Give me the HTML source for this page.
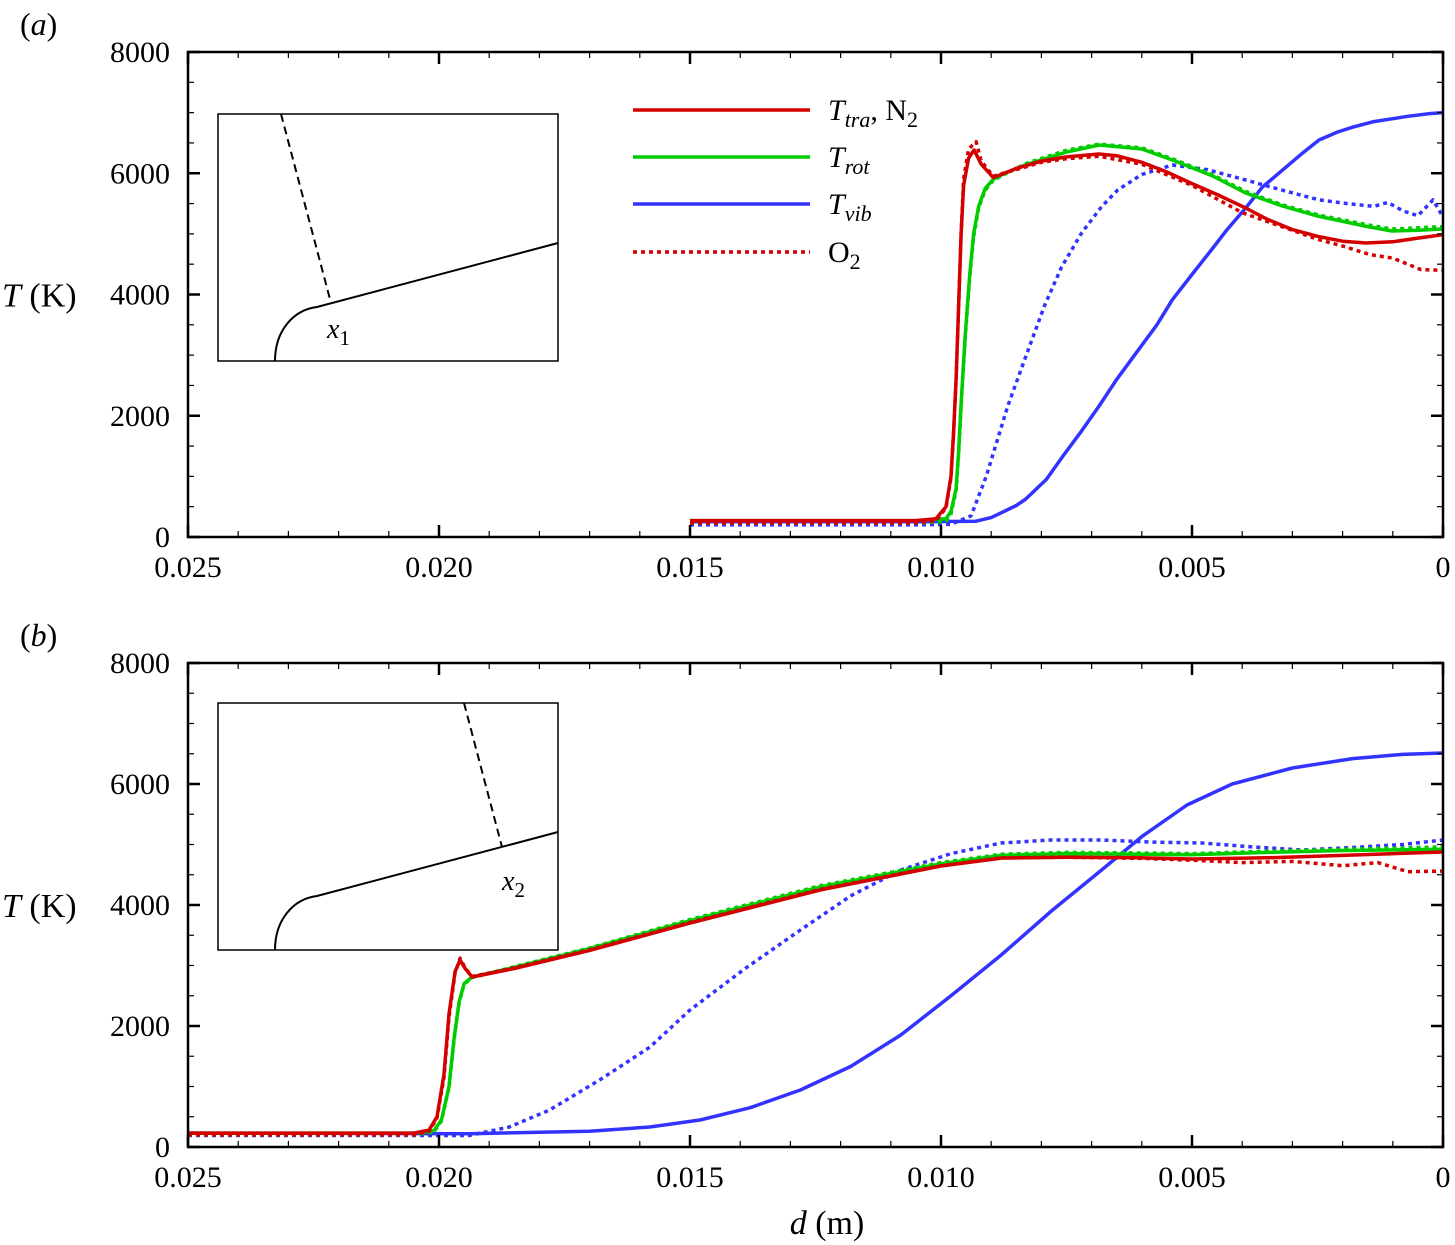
<!DOCTYPE html>
<html><head><meta charset="utf-8"><style>
body{margin:0;background:#fff}
svg{display:block;font-family:"Liberation Serif",serif}
</style></head><body>
<svg id="fig" width="1455" height="1245" viewBox="0 0 1455 1245" xmlns="http://www.w3.org/2000/svg"></svg>
<script>
// ---- data ----
const xTicks = [0.025, 0.020, 0.015, 0.010, 0.005, 0];
const xTickLabels = ["0.025", "0.020", "0.015", "0.010", "0.005", "0"];
const yTicks = [0, 2000, 4000, 6000, 8000];
const yTickLabels = ["0", "2000", "4000", "6000", "8000"];

// panel (a)
const aN2traD = [0.015,0.0105,0.0101,0.0099,0.0098,0.00975,0.0097,0.00965,0.0096,0.00955,0.00945,0.00934,0.0092,0.00896,0.0088,0.0085,0.008,0.0075,0.00685,0.0065,0.006,0.0055,0.005,0.0045,0.00393,0.0035,0.003,0.0025,0.002,0.00153,0.001,0.0005,0];
const aN2traT = [270,270,300,500,1000,1700,2600,3800,5000,5800,6250,6384,6150,5930,5980,6080,6200,6270,6317,6290,6180,6020,5830,5650,5427,5240,5070,4960,4880,4850,4870,4930,4986];
const aO2traD = [0.015,0.0105,0.0101,0.0099,0.0098,0.00975,0.0097,0.00965,0.0096,0.00955,0.00945,0.0093,0.0092,0.00896,0.0088,0.0085,0.008,0.0075,0.00685,0.006,0.005,0.004,0.00247,0.002,0.00145,0.001,0.00044,0];
const aO2traT = [230,230,270,480,980,1700,2600,3800,5000,5900,6400,6520,6200,5950,5990,6060,6180,6240,6280,6150,5800,5350,4904,4800,4657,4600,4410,4400];
const aN2rotD = [0.015,0.0105,0.0099,0.0098,0.0097,0.00965,0.0096,0.00952,0.00943,0.00935,0.00925,0.00912,0.00896,0.0087,0.00831,0.0075,0.00685,0.006,0.00539,0.0046,0.00393,0.0032,0.00247,0.0015,0.00102,0.0005,0];
const aN2rotT = [270,270,300,420,800,1400,2200,3300,4300,5000,5450,5750,5900,6010,6140,6350,6466,6400,6219,5960,5674,5460,5288,5120,5047,5060,5080];
const aO2rotD = [0.015,0.0105,0.0099,0.0098,0.0097,0.00965,0.0096,0.00952,0.00943,0.00935,0.00925,0.00912,0.00896,0.0087,0.00831,0.0075,0.00685,0.006,0.00539,0.0046,0.00393,0.0032,0.00247,0.0015,0.00102,0.0005,0];
const aO2rotT = [230,230,260,380,760,1350,2150,3250,4250,4950,5420,5720,5880,6000,6160,6380,6480,6420,6240,5980,5700,5480,5310,5150,5080,5100,5120];
const aN2vibD = [0.015,0.0105,0.0093,0.009,0.0088,0.0085,0.00831,0.0079,0.00757,0.0072,0.00685,0.0065,0.0061,0.0057,0.00539,0.005,0.0046,0.0043,0.00393,0.0036,0.0032,0.0028,0.00247,0.0021,0.0018,0.00138,0.001,0.0007,0.0003,0];
const aN2vibT = [250,250,260,320,400,520,627,950,1336,1750,2160,2600,3050,3500,3914,4330,4750,5070,5427,5770,6050,6330,6549,6680,6760,6852,6900,6940,6980,7000];
const aO2vibD = [0.015,0.0105,0.0098,0.0094,0.0091,0.00867,0.0083,0.00794,0.0076,0.0072,0.0068,0.00648,0.006,0.00539,0.0047,0.00393,0.0032,0.00247,0.0019,0.00138,0.0011,0.0008,0.0005,0.0002,0];
const aO2vibT = [200,200,210,350,1000,2160,3000,3810,4450,5015,5450,5723,5980,6136,6060,5889,5720,5560,5500,5453,5520,5380,5300,5560,5280];

// panel (b)
const bN2traD = [0.025,0.0205,0.0202,0.02004,0.0199,0.0198,0.01968,0.01958,0.01948,0.01934,0.0185,0.017,0.015,0.0124,0.010,0.0088,0.0075,0.006,0.005,0.0035,0.002,0];
const bN2traT = [230,230,280,500,1200,2200,2900,3090,2950,2810,2950,3250,3700,4250,4644,4776,4790,4780,4760,4780,4820,4876];
const bO2traD = [0.025,0.0205,0.0202,0.02004,0.0199,0.0198,0.01968,0.01958,0.01948,0.01934,0.0185,0.017,0.015,0.0124,0.010,0.0088,0.0075,0.006,0.005,0.004,0.003,0.002,0.0013,0.0007,0];
const bO2traT = [200,200,260,480,1150,2150,2880,3120,2960,2820,2960,3260,3710,4260,4650,4780,4790,4770,4740,4700,4720,4650,4700,4550,4560];
const bN2rotD = [0.025,0.0205,0.0201,0.01995,0.0198,0.0197,0.0196,0.0195,0.01934,0.0185,0.017,0.015,0.0124,0.010,0.0088,0.0075,0.006,0.005,0.0035,0.002,0];
const bN2rotT = [230,230,270,450,1000,1800,2400,2700,2810,2970,3280,3740,4300,4680,4820,4850,4840,4830,4870,4900,4920];
const bO2rotD = [0.025,0.0205,0.0201,0.01995,0.0198,0.0197,0.0196,0.0195,0.01934,0.0185,0.017,0.015,0.0124,0.010,0.0088,0.0075,0.006,0.005,0.0035,0.002,0];
const bO2rotT = [200,200,250,430,980,1780,2380,2690,2800,2980,3290,3760,4320,4700,4840,4870,4860,4850,4890,4920,4960];
const bN2vibD = [0.025,0.0194,0.017,0.0158,0.0148,0.0138,0.0128,0.0118,0.0108,0.0098,0.0088,0.0078,0.0068,0.006,0.0051,0.0042,0.003,0.0018,0.0008,0];
const bN2vibT = [230,220,260,330,446,650,942,1330,1851,2500,3174,3900,4578,5130,5653,6000,6264,6420,6490,6512];
const bO2vibD = [0.025,0.0194,0.0186,0.0178,0.0168,0.0158,0.015,0.0139,0.0128,0.0118,0.0108,0.0098,0.0088,0.0078,0.0068,0.0058,0.0048,0.0038,0.0028,0.0018,0.0008,0];
const bO2vibT = [190,190,330,610,1107,1650,2264,2950,3587,4150,4578,4850,5025,5075,5075,5040,5025,4960,4909,4950,5000,5075];

// ---- drawing ----
const NS = "http://www.w3.org/2000/svg";
const svg = document.getElementById("fig");
const X0 = 188, X1 = 1443;
function xs(d){ return X0 + (0.025 - d) / 0.025 * (X1 - X0); }
function mk(tag, attrs, parent){
  const e = document.createElementNS(NS, tag);
  for (const k in attrs) e.setAttribute(k, attrs[k]);
  (parent || svg).appendChild(e);
  return e;
}
const RED = "#d40000", GREEN = "#00cc00", BLUE = "#3333ff";

function panel(top, bottom, label, series, pid){
  const g = mk("g", {});
  
  
  function ys(t){ return bottom - t / 8000 * (bottom - top); }
  series.forEach(s => {
    let pts = s.d.map((d, i) => xs(d).toFixed(1) + "," + ys(s.t[i]).toFixed(1)).join(" ");
    const p = mk("polyline", {points: pts, fill: "none", stroke: s.c, "stroke-width": 3.5,
      "stroke-linejoin": "round"}, g);
    if (s.dot) p.setAttribute("stroke-dasharray", "4 4");
    
    
  });
  const fr = mk("rect", {x: X0, y: top, width: X1 - X0, height: bottom - top, fill: "none", stroke: "#000", "stroke-width": 2.5}, g);
  
  
  for (let k = 0; k <= 25; k++){
    const d = 0.025 - k * 0.001;
    const x = xs(d);
    const len = (k % 5 === 0) ? 12 : 6;
    mk("line", {x1: x, x2: x, y1: bottom, y2: bottom - len, stroke: "#000", "stroke-width": k%5===0?2.5:1.2}, g);
    mk("line", {x1: x, x2: x, y1: top, y2: top + len, stroke: "#000", "stroke-width": k%5===0?2.5:1.2}, g);
  }
  xTicks.forEach((d, i) => {
    const t = mk("text", {x: xs(d), y: bottom + 40, "font-size": 30, "text-anchor": "middle"}, g);
    t.textContent = xTickLabels[i];
    
    
  });
  for (let v = 0; v <= 8000; v += 500){
    const y = ys(v);
    const major = v % 2000 === 0;
    const len = major ? 12 : 6;
    mk("line", {x1: X0, x2: X0 + len, y1: y, y2: y, stroke: "#000", "stroke-width": major?2.5:1.2}, g);
    mk("line", {x1: X1, x2: X1 - len, y1: y, y2: y, stroke: "#000", "stroke-width": major?2.5:1.2}, g);
  }
  yTicks.forEach((v, i) => {
    const t = mk("text", {x: 170, y: ys(v) + 10, "font-size": 30, "text-anchor": "end"}, g);
    t.textContent = yTickLabels[i];
    
    
  });
  const yt = mk("text", {x: 2, y: ys(4000) + 12, "font-size": 34}, g);
  yt.innerHTML = '<tspan font-style="italic">T</tspan> (K)';
  
  
  const pl = mk("text", {x: 20, y: top - 17, "font-size": 32}, g);
  pl.innerHTML = '(<tspan font-style="italic">' + label + '</tspan>)';
  
  
  return g;
}

panel(52, 537, "a", [
  {d: aO2vibD, t: aO2vibT, c: BLUE, dot: true, name: "o2-tvib-line"},
  {d: aN2vibD, t: aN2vibT, c: BLUE, dot: false, name: "n2-tvib-line"},
  {d: aO2rotD, t: aO2rotT, c: GREEN, dot: true, name: "o2-trot-line"},
  {d: aN2rotD, t: aN2rotT, c: GREEN, dot: false, name: "n2-trot-line"},
  {d: aO2traD, t: aO2traT, c: RED, dot: true, name: "o2-ttra-line"},
  {d: aN2traD, t: aN2traT, c: RED, dot: false, name: "n2-ttra-line"}
], "a");
panel(663, 1147, "b", [
  {d: bO2vibD, t: bO2vibT, c: BLUE, dot: true, name: "o2-tvib-line"},
  {d: bN2vibD, t: bN2vibT, c: BLUE, dot: false, name: "n2-tvib-line"},
  {d: bO2rotD, t: bO2rotT, c: GREEN, dot: true, name: "o2-trot-line"},
  {d: bN2rotD, t: bN2rotT, c: GREEN, dot: false, name: "n2-trot-line"},
  {d: bO2traD, t: bO2traT, c: RED, dot: true, name: "o2-ttra-line"},
  {d: bN2traD, t: bN2traT, c: RED, dot: false, name: "n2-ttra-line"}
], "b");

const xt = mk("text", {x: 827, y: 1234, "font-size": 34, "text-anchor": "middle"});
xt.innerHTML = '<tspan font-style="italic">d</tspan> (m)';



function inset(top, arcEndX, arcEndY, lineEndY, dx1, dy1, dx2, dy2, lx, ly, sub, name){
  const g = mk("g", {});
  
  
  const bottom = top + 247;
  mk("rect", {x: 218, y: top, width: 340, height: 247, fill: "#fff", stroke: "#000", "stroke-width": 1.5}, g);
  const sx = arcEndX - 42;
  mk("path", {d: `M${sx},${bottom} C${sx},${bottom-30} ${sx+18},${arcEndY+3} ${arcEndX},${arcEndY} L558,${lineEndY}`, fill: "none", stroke: "#000", "stroke-width": 2}, g);
  mk("line", {x1: dx1, y1: dy1, x2: dx2, y2: dy2, stroke: "#000", "stroke-width": 2, "stroke-dasharray": "8 5"}, g);
  const t = mk("text", {x: lx, y: ly, "font-size": 28}, g);
  t.innerHTML = '<tspan font-style="italic">x</tspan><tspan font-size="21" dy="7">' + sub + '</tspan>';
  
  
}
inset(114, 317, 307, 243, 281, 114, 331, 303, 327, 338, "1", "inset-geometry-a");
inset(703, 317, 896, 832, 464, 703, 502, 847, 502, 890, "2", "inset-geometry-b");

const leg = mk("g", {});


const legY = [110, 157, 204, 252];
const legC = [RED, GREEN, BLUE, RED];
const legT = ['<tspan font-style="italic">T</tspan><tspan font-style="italic" font-size="22" dy="7">tra</tspan><tspan dy="-7">, N</tspan><tspan font-size="22" dy="7">2</tspan>',
  '<tspan font-style="italic">T</tspan><tspan font-style="italic" font-size="22" dy="7">rot</tspan>',
  '<tspan font-style="italic">T</tspan><tspan font-style="italic" font-size="22" dy="7">vib</tspan>',
  'O<tspan font-size="22" dy="7">2</tspan>'];
legY.forEach((y, i) => {
  const l = mk("line", {x1: 633, x2: 810, y1: y, y2: y, stroke: legC[i], "stroke-width": 3.5}, leg);
  if (i === 3) l.setAttribute("stroke-dasharray", "4 4");
  
  
  const t = mk("text", {x: 828, y: y + 10, "font-size": 30}, leg);
  t.innerHTML = legT[i];
  
  
});
</script>
</body></html>
